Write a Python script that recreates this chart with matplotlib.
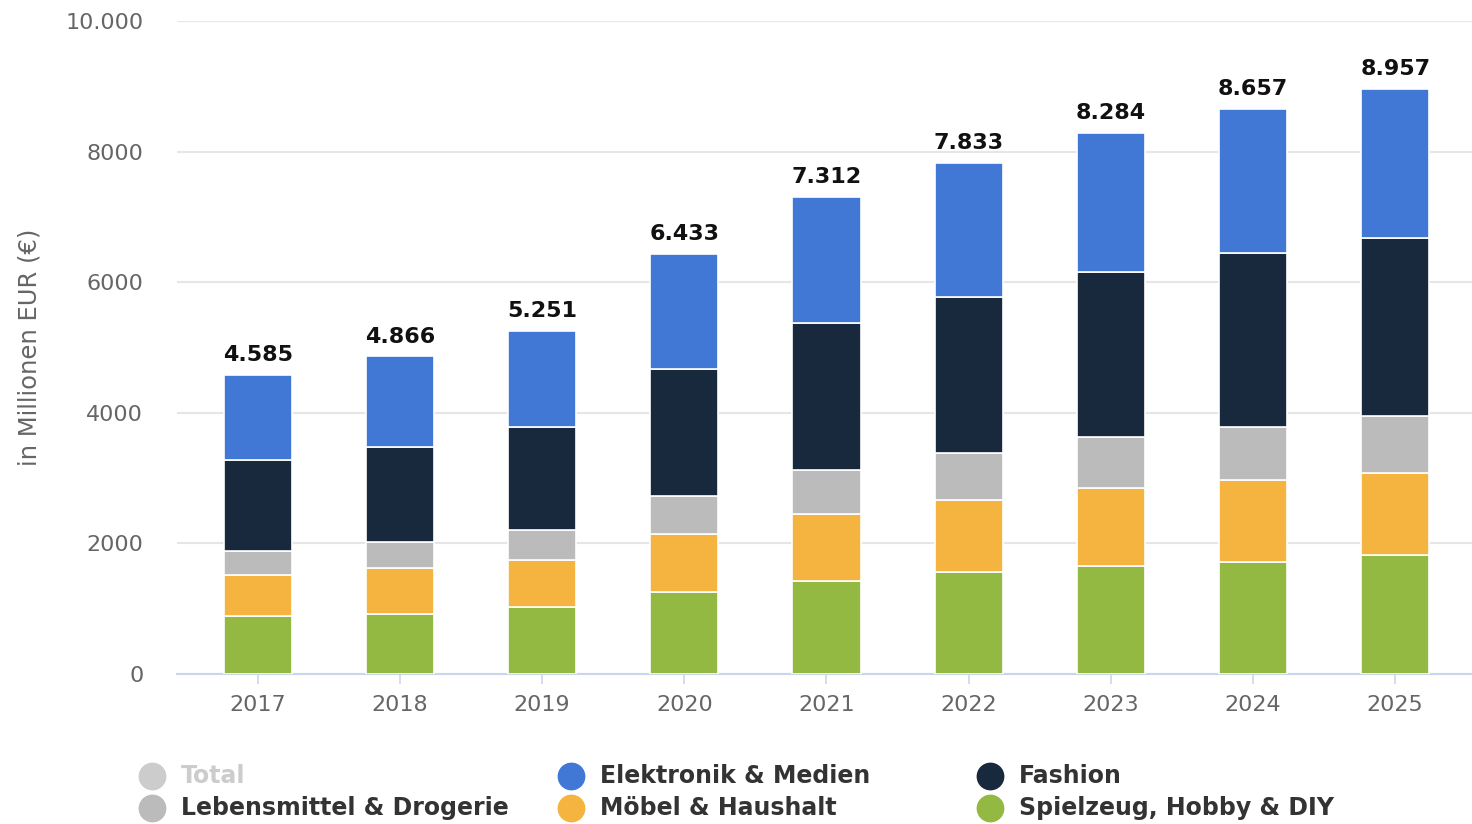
import matplotlib.pyplot as plt
import numpy as np
from matplotlib.lines import Line2D

# data (Mio. EUR)
years = ['2017', '2018', '2019', '2020', '2021', '2022', '2023', '2024', '2025']
totals = [4585, 4866, 5251, 6433, 7312, 7833, 8284, 8657, 8957]
spielzeug = [889, 920, 1027, 1257, 1426, 1564, 1656, 1717, 1824]
moebel = [629, 705, 721, 889, 1027, 1103, 1195, 1257, 1257]
lebensmittel = [368, 399, 460, 583, 674, 721, 782, 813, 874]
fashion = [1395, 1456, 1579, 1947, 2254, 2391, 2530, 2667, 2729]
elektronik = [t - (a + b + c + d) for t, a, b, c, d in zip(totals, spielzeug, moebel, lebensmittel, fashion)]

yticks = [0, 2000, 4000, 6000, 8000, 10000]
ytick_labels = ['0', '2000', '4000', '6000', '8000', '10.000']

series = [
    ('Spielzeug, Hobby & DIY', spielzeug, '#93b943'),
    ('Möbel & Haushalt', moebel, '#f4b43f'),
    ('Lebensmittel & Drogerie', lebensmittel, '#bbbbbb'),
    ('Fashion', fashion, '#19293d'),
    ('Elektronik & Medien', elektronik, '#4178d6'),
]

fig = plt.figure(figsize=(14.72, 8.24), dpi=100)
ax = fig.add_axes([0.120, 0.182, 0.880, 0.7925])

x = np.arange(len(years))
bottom = np.zeros(len(years))
for name, vals, col in series:
    ax.bar(x, vals, width=0.48, bottom=bottom, color=col, edgecolor='white', linewidth=1.2, zorder=3)
    bottom += np.array(vals)

# total labels on top
for xi, t in zip(x, totals):
    ax.annotate(f'{t/1000:.3f}', (xi, t), xytext=(0, 7), textcoords='offset points',
                ha='center', va='bottom', fontsize=16, fontweight='bold', color='#111111')

ax.set_xlim(-0.57, 8.54)
ax.set_ylim(0, 10000)
ax.set_yticks(yticks)
ax.set_yticklabels(ytick_labels)
ax.set_xticks(x)
ax.set_xticklabels(years)
ax.yaxis.grid(True, color='#e6e6e6', linewidth=1.5, zorder=0)
ax.set_axisbelow(True)
for s in ['top', 'right', 'left']:
    ax.spines[s].set_visible(False)
ax.spines['bottom'].set_color('#ccd6eb')
ax.spines['bottom'].set_linewidth(1.5)
ax.tick_params(axis='y', length=0, labelsize=16, labelcolor='#666666', pad=24)
ax.tick_params(axis='x', length=7, color='#ccd6eb', width=1.2, labelsize=16, labelcolor='#666666', pad=8)
ax.set_ylabel('in Millionen EUR (€)', fontsize=17.5, color='#666666')
ax.yaxis.set_label_coords(-0.104, 0.5)

# legend drawn by hand: row-major like the original
legend_items = [
    ('Total', '#cccccc', '#cccccc'),
    ('Elektronik & Medien', '#4178d6', '#333333'),
    ('Fashion', '#19293d', '#333333'),
    ('Lebensmittel & Drogerie', '#bbbbbb', '#333333'),
    ('Möbel & Haushalt', '#f4b43f', '#333333'),
    ('Spielzeug, Hobby & DIY', '#93b943', '#333333'),
]
col_x = [152, 571, 990]
row_y = [776, 808]
for i, (label, mcol, tcol) in enumerate(legend_items):
    px = col_x[i % 3] / 1472
    py = 1 - row_y[i // 3] / 824
    fig.add_artist(Line2D([px], [py], marker='o', markersize=19, color=mcol, linestyle='none',
                          transform=fig.transFigure))
    fig.text(px + 29 / 1472, py, label, fontsize=17, fontweight='bold', color=tcol,
             ha='left', va='center')

fig.savefig('out.png', dpi=100)
